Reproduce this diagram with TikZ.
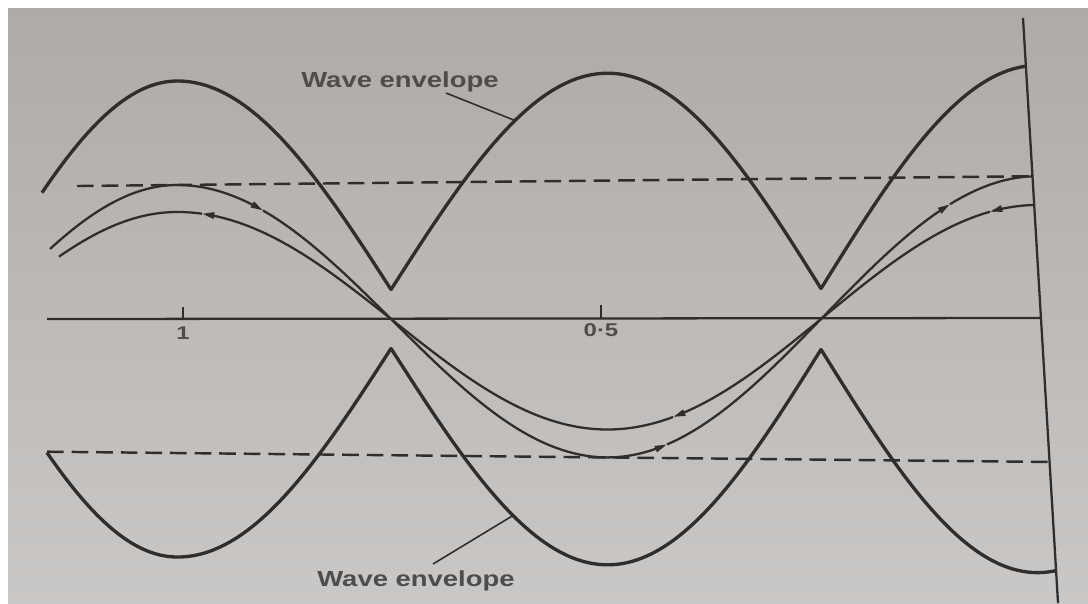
\documentclass[tikz,border=0pt]{standalone}
\usepackage{fontspec}
\setmainfont{Liberation Sans}
\usepackage{tikz}
\usetikzlibrary{arrows.meta,calc}
\usepackage{xcolor}

\definecolor{ink}{RGB}{48,46,45}
\definecolor{papertop}{RGB}{174,170,168}
\definecolor{paperbot}{RGB}{202,200,198}

\begin{document}
\begin{tikzpicture}[x=0.02cm,y=-0.02cm,
    declare function={
      pers(\x)=1+0.00007*(\x-176);
      ph(\x)=(\x-176)/(430-40*(\x<176))*180;
      env(\x)=pers(\x)*(29+209*abs(cos(ph(\x))));
      wav(\x,\a)=pers(\x)*\a*cos(ph(\x));
    },
    envline/.style={ink,line width=1.9pt,line join=round},
    waveline/.style={ink,line width=1.3pt},
    level/.style={ink,line width=1.4pt,dash pattern=on 9.5pt off 4.5pt},
    leader/.style={ink,line width=0.9pt},
    lbl/.style={ink!85,font=\bfseries\fontsize{12.4}{14}\selectfont,xscale=1.26,inner sep=0pt},
    num/.style={ink!85,font=\bfseries\fontsize{10.5}{12}\selectfont,xscale=1.3,inner sep=0pt},
    fwd/.style={-{Triangle[length=7pt,width=3.6pt]}},
    bwd/.style={{Triangle[length=7pt,width=3.6pt]}-},
  ]
    % Paper
    \fill[white] (0,0) rectangle (1088,603);
    \shade[top color=papertop,bottom color=paperbot] (8,8) rectangle (1088,603);
    \useasboundingbox (0,0) rectangle (1088,603);

    % Axis and wall
    \draw[waveline] (47,319) -- (1041,318);
    \draw[ink,line width=1.3pt] (1023,18) -- (1058,603);
    \draw[ink,line width=1.1pt] (183,307) -- (183,319);
    \draw[ink,line width=1.1pt] (601,305) -- (601,318);
    \node[num] (one) at (183,333) {1};
    \node[num] (half) at (601,330) {0·5};

    % Levels of the incident wave
    \draw[level] (77,{319-134*pers(77)}) -- (1033,{319-134*pers(1033)});
    \draw[level] (47,{319+134*pers(47)}) -- (1049,{319+134*pers(1049)});

    % Envelopes
    \draw[envline] plot[domain=42:391,samples=90] (\x,{319-env(\x)})
      -- plot[domain=391:821,samples=110] (\x,{319-env(\x)})
      -- plot[domain=821:1026,samples=60] (\x,{319-env(\x)});
    \draw[envline] plot[domain=47:391,samples=90] (\x,{319+env(\x)})
      -- plot[domain=391:821,samples=110] (\x,{319+env(\x)})
      -- plot[domain=821:1056,samples=60] (\x,{319+env(\x)});

    % Incident wave
    \draw[waveline,fwd] plot[domain=50:263,samples=50] (\x,{319-wav(\x,134)});
    \draw[waveline,fwd] plot[domain=263:667,samples=90] (\x,{319-wav(\x,134)});
    \draw[waveline,fwd] plot[domain=667:950,samples=60] (\x,{319-wav(\x,134)});
    \draw[waveline] plot[domain=950:1033,samples=20] (\x,{319-wav(\x,134)});

    % Reflected wave
    \draw[waveline] plot[domain=59:202,samples=40] (\x,{319-wav(\x,107)});
    \draw[waveline,bwd] plot[domain=202:673,samples=90] (\x,{319-wav(\x,107)});
    \draw[waveline,bwd] plot[domain=673:990,samples=60] (\x,{319-wav(\x,107)});
    \draw[waveline,bwd] plot[domain=990:1034,samples=15] (\x,{319-wav(\x,107)});

    % Labels
    \node[lbl] (envtop) at (400,82) {Wave envelope};
    \node[lbl] (envbot) at (416,581) {Wave envelope};
    \coordinate (touchtop) at (515,{319-env(515)});
    \coordinate (touchbot) at (513,{319+env(513)});
    \draw[leader] ($(envtop.center)+(46,11)$) -- (touchtop);
    \draw[leader] ($(envbot.center)+(17,-17)$) -- (touchbot);
\end{tikzpicture}
\end{document}
